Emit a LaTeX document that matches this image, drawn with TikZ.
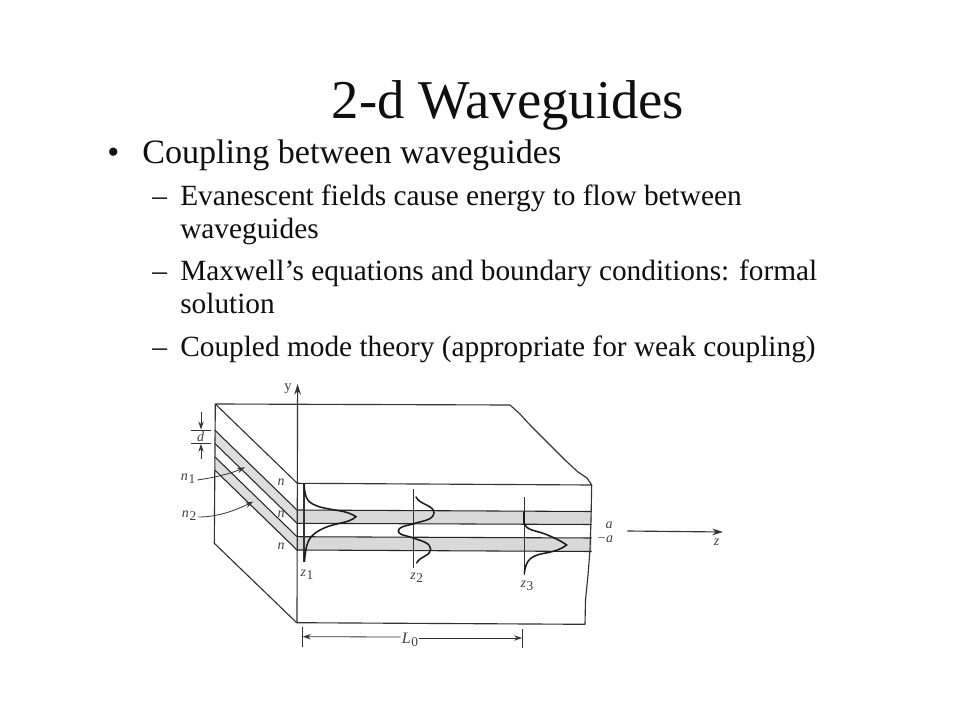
\documentclass[tikz,border=0pt]{standalone}
\usepackage{fontspec}
\setmainfont{Liberation Serif}
\usetikzlibrary{arrows.meta,patterns}
\definecolor{ink}{gray}{0.06}
\definecolor{lineink}{gray}{0.2}
\definecolor{band}{gray}{0.85}
\definecolor{bandside}{gray}{0.9}
\newcommand{\lsub}[1]{\kern0.5pt\raisebox{-2.5pt}{\fontsize{10}{10}\selectfont\upshape #1}}
\tikzset{
  x=0.75pt,y=-0.75pt,
  slide/.style={anchor=base west,inner sep=0,text=ink},
  titletext/.style={anchor=base,inner sep=0,text=ink,font=\fontsize{41}{41}\selectfont},
  lone/.style={slide,font=\fontsize{25.6}{26}\selectfont},
  ltwo/.style={slide,font=\fontsize{22}{22}\selectfont},
  edge/.style={draw=lineink,line width=0.85pt,line join=round},
  thin edge/.style={draw=lineink,line width=0.6pt},
  heavy/.style={draw=black!90,line width=1.15pt,line cap=round},
  layer/.style={fill=band,draw=none},
  sidelayer/.style={fill=bandside,draw=none},
  stipple/.style={pattern=crosshatch dots,pattern color=black!35},
  layerline/.style={draw=black!85,line width=0.8pt},
  pointer/.style={draw=lineink,line width=0.6pt,-{Stealth[length=6pt,width=4pt]}},
  lab/.style={inner sep=0,text=black!75,font=\fontsize{10.5}{11}\selectfont\itshape},
}
\begin{document}
\begin{tikzpicture}
\useasboundingbox (0,0) rectangle (960,720);
\fill[white] (0,0) rectangle (960,720);
% text
\node[titletext] (title) at (508,119) {2-d Waveguides};
\node[lone] (b0) at (107,164) {•};
\node[lone] (t1) at (142,164) {Coupling between waveguides};
\node[ltwo] (d1) at (152,206) {–};
\node[ltwo] (t2) at (180,206) {Evanescent fields cause energy to flow between};
\node[ltwo] (t3) at (180,239) {waveguides};
\node[ltwo] (d2) at (152,281) {–};
\node[ltwo] (t4) at (180,281) {Maxwell’s equations and boundary conditions: formal};
\node[ltwo] (t5) at (180,314) {solution};
\node[ltwo] (d3) at (152,356) {–};
\node[ltwo] (t6) at (180,356) {Coupled mode theory (appropriate for weak coupling)};
% layers
\fill[sidelayer] (214.7,430) -- (297,510) -- (297,523.3) -- (214.7,443.3) -- cycle;
\fill[sidelayer] (214.7,456.7) -- (297,536.7) -- (297,550) -- (214.7,470) -- cycle;
\fill[stipple] (214.7,430) -- (297,510) -- (297,523.3) -- (214.7,443.3) -- cycle;
\fill[stipple] (214.7,456.7) -- (297,536.7) -- (297,550) -- (214.7,470) -- cycle;
\fill[layer] (297,510) -- (591.5,511.5) -- (591.5,524.5) -- (297,523.3) -- cycle;
\fill[layer] (297,536.7) -- (591.5,538) -- (591.5,551.5) -- (297,550) -- cycle;
\draw[layerline] (214.7,430) -- (297,510) -- (591.5,511.5);
\draw[layerline] (214.7,443.3) -- (297,523.3) -- (591.5,524.5);
\draw[layerline] (214.7,456.7) -- (297,536.7) -- (591.5,538);
\draw[layerline] (214.7,470) -- (297,550) -- (591.5,551.5);
% block
\draw[edge] (215.3,404) -- (510,405) -- (520,414) -- (530,425) -- (541,436) -- (553,448) -- (566,461) -- (578,472) -- (587,478) -- (591.7,485)
  -- (297.3,483.3) -- (215.3,404) -- (214.3,543.3) -- (296.7,622.7) -- (585,624.3)
  -- (585.5,600) -- (588,575) -- (590,550) -- (591,520) -- (591.7,485);
\coordinate (yfoot) at (297,622);
\coordinate (ytop) at (297.6,384);
\draw[edge,-{Stealth[length=8pt,width=5pt]}] (yfoot) -- (ytop);
\node[lab,font=\fontsize{11}{11}\selectfont] (ylab) at (288,389) {y};
% thickness d
\coordinate (dtopa) at (201,412); \coordinate (dtopb) at (201,429.5);
\coordinate (dbota) at (201,459); \coordinate (dbotb) at (201,443.8);
\draw[pointer] (dtopa) -- (dtopb);
\draw[pointer] (dbota) -- (dbotb);
\coordinate (d1a) at (191,430); \coordinate (d1b) at (211,430);
\coordinate (d2a) at (191,443.3); \coordinate (d2b) at (211,443.3);
\draw[thin edge] (d1a) -- (d1b);
\draw[thin edge] (d2a) -- (d2b);
\node[lab] (dlab) at (200.7,437) {d};
% indices
\node[lab] (n1) at (188,479) {n\lsub{1}};
\node[lab] (n2) at (189,516) {n\lsub{2}};
\coordinate (n1tip) at (245,467.3);
\coordinate (n2tip) at (253.3,501.7);
\draw[pointer] (n1.east)+(2,1) .. controls (218,477) and (232,473) .. (n1tip);
\draw[pointer] (n2.east)+(2,1) .. controls (220,517) and (238,509) .. (n2tip);
\node[lab] (na) at (281,482.3) {n};
\node[lab] (nb) at (281,514) {n};
\node[lab] (nc) at (281,546) {n};
% sampling lines
\coordinate (z1a) at (304,483); \coordinate (z1b) at (304,562);
\coordinate (z2a) at (413.3,489); \coordinate (z2b) at (413.3,568);
\coordinate (z3a) at (524,497); \coordinate (z3b) at (524,575);
\draw[edge] (z1a) -- (z1b);
\draw[thin edge] (z2a) -- (z2b);
\draw[thin edge] (z3a) -- (z3b);
% modes
\draw[heavy] (304,484) .. controls (305,500) and (308,503) .. (320,507) .. controls (335,511) and (346,510) .. (356,516.7)
  .. controls (348,524) and (335,522) .. (320,530) .. controls (307,537) and (306,545) .. (304.5,561);
\draw[heavy] (416,497) .. controls (420,505) and (434,505) .. (434,513) .. controls (433,521) and (420,521) .. (413,524)
  .. controls (405,526) and (398.3,527) .. (398.3,531) .. controls (398.3,535) and (405,535) .. (413,538)
  .. controls (422,541) and (430.7,543) .. (430.7,549.3) .. controls (430.7,556) and (420,556) .. (416.7,563);
\draw[heavy] (524,512) -- (524,523) .. controls (527,531) and (535,530) .. (545,534) .. controls (555,538) and (561,541) .. (566.7,545)
  .. controls (560,550) and (552,552) .. (543,553.5) .. controls (532,556) and (526,559) .. (524.3,573);
% labels z
\node[lab] (z1l) at (307,575) {z\lsub{1}};
\node[lab] (z2l) at (416.7,578) {z\lsub{2}};
\node[lab] (z3l) at (527,586) {z\lsub{3}};
% L0
\coordinate (Ll1) at (302.3,627); \coordinate (Ll2) at (302.3,647);
\coordinate (Lr1) at (522.7,629); \coordinate (Lr2) at (522.7,648);
\draw[thin edge] (Ll1) -- (Ll2);
\draw[thin edge] (Lr1) -- (Lr2);
\node[lab,font=\fontsize{12}{12}\selectfont\itshape] (L0) at (410,640) {L\lsub{0}};
\coordinate (Lla) at (302.8,636.7); \coordinate (Lra) at (522.2,638);
\draw[pointer] (L0.west)+(-1,-3) -- (Lla);
\draw[pointer] (L0.east)+(1,-2) -- (Lra);
% a labels and z axis
\node[lab] (a) at (609,525) {a};
\node[lab] (ma) at (605,539.3) {−a};
\coordinate (za) at (627.3,531); \coordinate (zb) at (723,532);
\draw[edge,-{Stealth[length=8pt,width=5pt]}] (za) -- (zb);
\node[lab] (zl) at (716.7,542.3) {z};
\end{tikzpicture}
\end{document}
